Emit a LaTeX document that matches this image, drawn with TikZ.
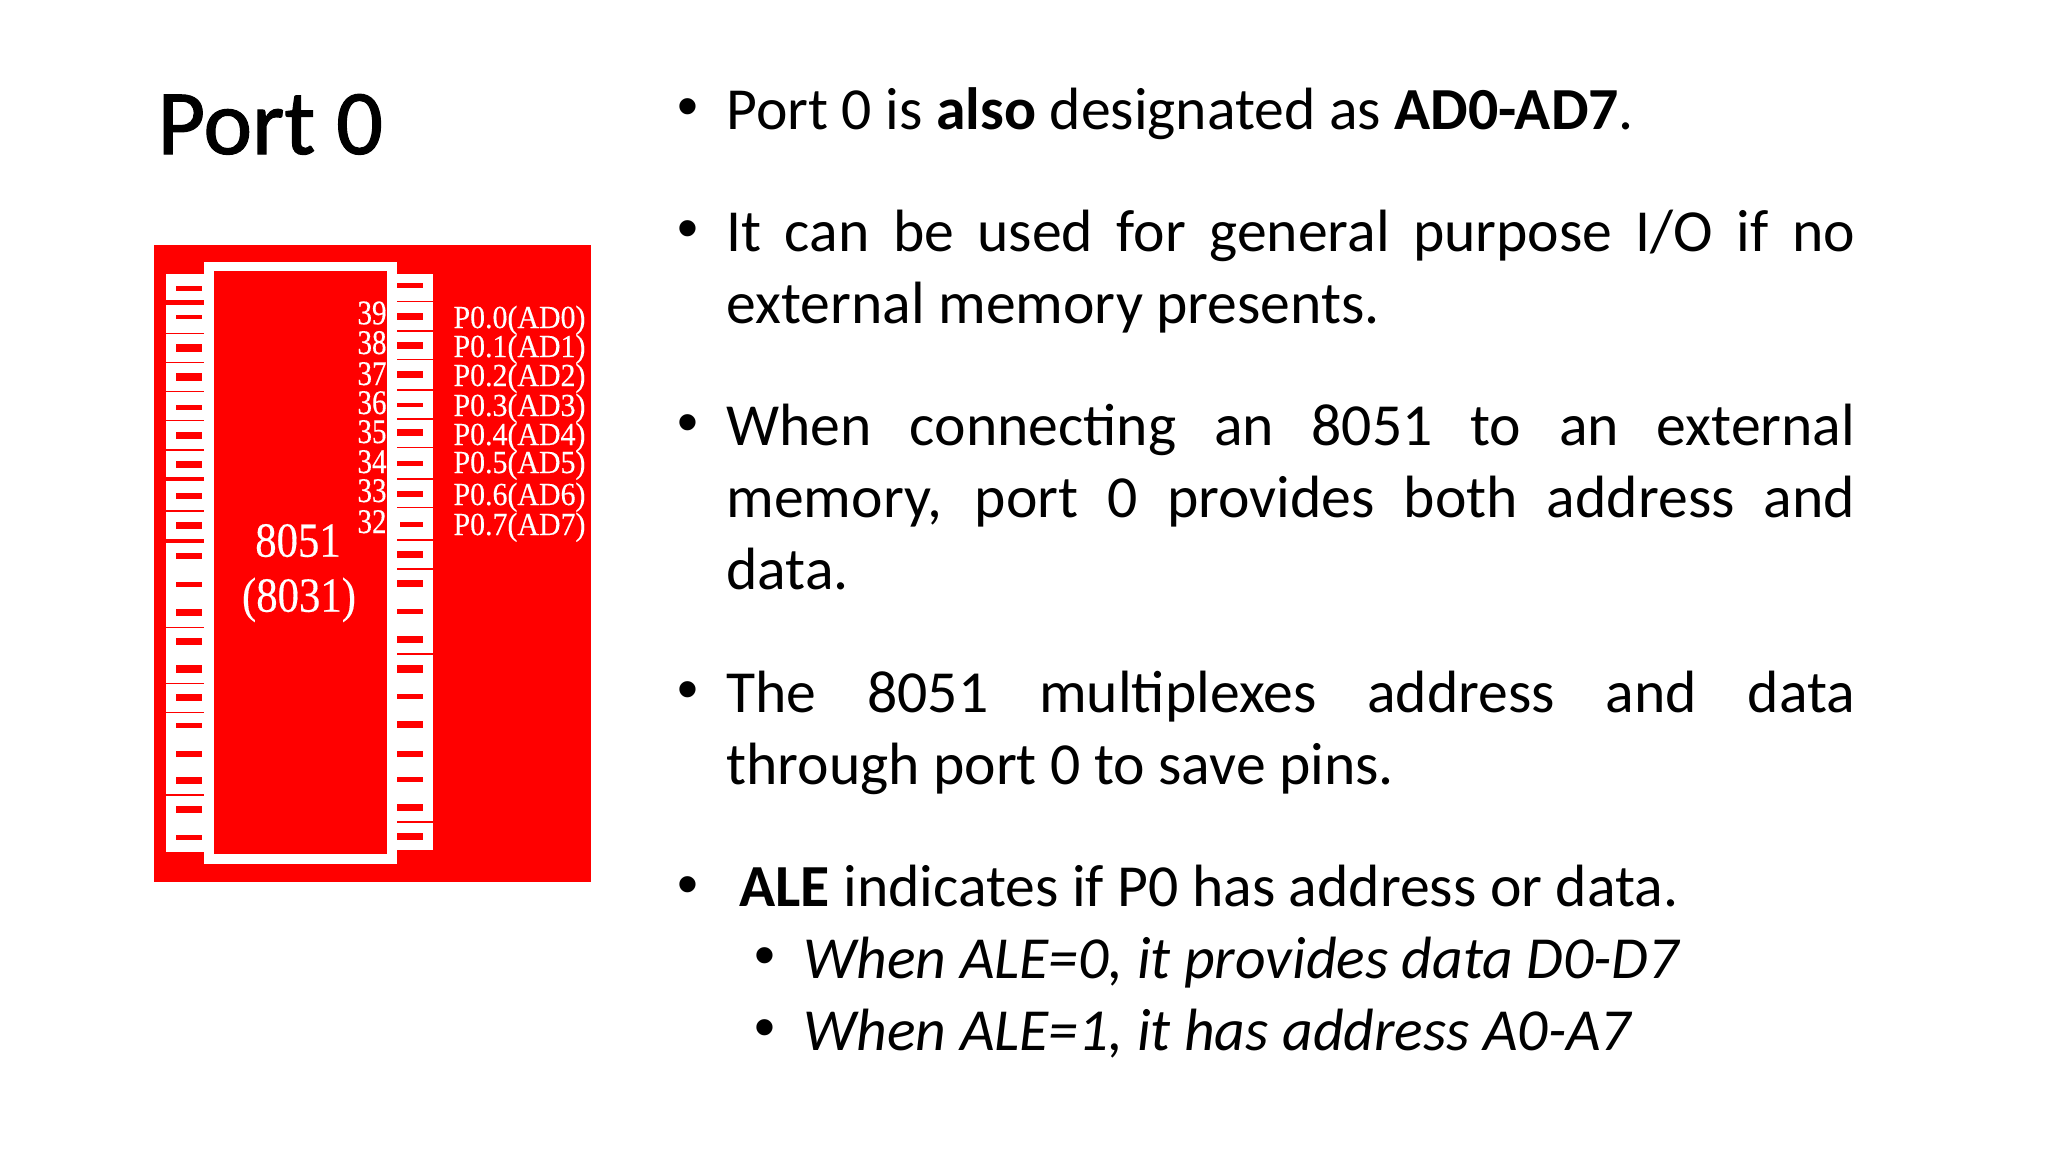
\documentclass[tikz,border=0pt]{standalone}
\usepackage{fontspec}
\setmainfont{Carlito}
\newfontfamily\chipfont[FakeBold=0.3]{Liberation Serif}
\newfontfamily\dotfont{Liberation Sans}
\newfontfamily\titlefont[FakeBold=1.2]{Carlito}
\usetikzlibrary{positioning}
\hyphenpenalty=10000
\tolerance=9000
\tikzset{
  bodytext/.style={anchor=base west,inner sep=0pt,text width=14.69cm,align=justify,font=\fontsize{22.1}{26.75}\selectfont},
  subtext/.style={anchor=base west,inner sep=0pt,font=\fontsize{22.1}{26.75}\selectfont\itshape},
  bulletdot/.style={anchor=base,inner sep=0pt,font=\dotfont\fontsize{22.1}{26.75}\selectfont},
  pinnum/.style={anchor=base east,inner sep=0pt,text=white,xscale=0.84,transform shape,font=\chipfont\fontsize{12.8}{12.8}\selectfont},
  pinlabel/.style={anchor=base west,inner sep=0pt,text=white,xscale=0.93,transform shape,font=\chipfont\fontsize{11.9}{11.9}\selectfont},
  chiplabel/.style={anchor=base,inner sep=0pt,text=white,xscale=0.87,transform shape,font=\chipfont\fontsize{18.2}{18.2}\selectfont}
}
\begin{document}
\begin{tikzpicture}[x=0.0130208cm,y=-0.0130208cm]
\useasboundingbox (0,0) rectangle (2048,1152);
\fill[white] (0,0) rectangle (2048,1152);
\node[anchor=base west,inner sep=0pt,font=\titlefont\fontsize{34.2}{34.2}\selectfont] (title) at (157,154) {Port 0};

% chip picture
\fill[red] (153.5,244.5) rectangle (591.3,881.5);
\fill[white] (165.7,273.7) rectangle (205,852);
\fill[white] (396,273.7) rectangle (433.3,850);
\fill[white] (204.3,261.7) rectangle (396.7,864.3);
\fill[red] (214.3,271.3) rectangle (387,854.3);

% left pins
\fill[red] (175.7,285.7) rectangle (202.3,290.7);
\fill[red] (175.7,314.7) rectangle (202.3,319.3);
\fill[red] (175.7,344) rectangle (202.3,351.7);
\fill[red] (175.7,373.3) rectangle (202.3,380.7);
\fill[red] (175.7,404.7) rectangle (202.3,410);
\fill[red] (175.7,431.7) rectangle (202.3,438.7);
\fill[red] (175.7,460.7) rectangle (202.3,468);
\fill[red] (175.7,492.7) rectangle (202.3,499.3);
\fill[red] (175.7,521.7) rectangle (202.3,529);
\fill[red] (175.7,552.7) rectangle (202.3,559.3);
\fill[red] (175.7,582.3) rectangle (202.3,587);
\fill[red] (175.7,609.3) rectangle (202.3,616);
\fill[red] (175.7,638.3) rectangle (202.3,645.3);
\fill[red] (175.7,665.3) rectangle (202.3,672.7);
\fill[red] (175.7,694.3) rectangle (202.3,701.3);
\fill[red] (175.7,723.3) rectangle (202.3,728.3);
\fill[red] (175.7,750.7) rectangle (202.3,757.3);
\fill[red] (175.7,777) rectangle (202.3,784);
\fill[red] (175.7,806.3) rectangle (202.3,813.3);
\fill[red] (175.7,835.3) rectangle (202.3,840);

% right pins
\fill[red] (397,283.3) rectangle (423.3,288.3);
\fill[red] (397,312.7) rectangle (423.3,320);
\fill[red] (397,341.7) rectangle (423.3,349);
\fill[red] (397,371) rectangle (423.3,378);
\fill[red] (397,402.7) rectangle (423.3,407.3);
\fill[red] (397,429.3) rectangle (423.3,436.3);
\fill[red] (397,460.7) rectangle (423.3,466);
\fill[red] (397,490.7) rectangle (423.3,497.3);
\fill[red] (400,521.7) rectangle (423.3,526.7);
\fill[red] (397,551) rectangle (423.3,558);
\fill[red] (397,580) rectangle (423.3,587.3);
\fill[red] (397,609.3) rectangle (423.3,613.7);
\fill[red] (397,636) rectangle (423.3,643);
\fill[red] (397,665.3) rectangle (423.3,672.7);
\fill[red] (397,694.3) rectangle (423.3,699);
\fill[red] (397,721.3) rectangle (423.3,728.3);
\fill[red] (397,750.7) rectangle (423.3,757.3);
\fill[red] (397,777) rectangle (423.3,782);
\fill[red] (397,804) rectangle (423.3,811);
\fill[red] (397,833) rectangle (423.3,840);

% gaps between pins
\fill[red] (165.7,300) rectangle (204.3,304.5);
\fill[red] (165.7,332.6) rectangle (204.3,334);
\fill[red] (165.7,361.6) rectangle (204.3,363);
\fill[red] (165.7,390.6) rectangle (204.3,392);
\fill[red] (165.7,419.6) rectangle (204.3,421);
\fill[red] (165.7,449.3) rectangle (204.3,450.7);
\fill[red] (165.7,477.3) rectangle (204.3,481.3);
\fill[red] (165.7,510.3) rectangle (204.3,511.7);
\fill[red] (165.7,539) rectangle (204.3,543);
\fill[red] (165.7,627) rectangle (204.3,628.4);
\fill[red] (165.7,682.6) rectangle (204.3,684);
\fill[red] (165.7,711.6) rectangle (204.3,713);
\fill[red] (165.7,794.3) rectangle (204.3,795.7);
\fill[red] (397,301) rectangle (433.3,302.4);
\fill[red] (397,330.3) rectangle (433.3,331.7);
\fill[red] (397,359) rectangle (433.3,360.4);
\fill[red] (397,388.7) rectangle (433.3,391.3);
\fill[red] (397,418.3) rectangle (433.3,419.7);
\fill[red] (397,446.6) rectangle (433.3,448);
\fill[red] (397,477.7) rectangle (433.3,480.3);
\fill[red] (397,507) rectangle (433.3,508.4);
\fill[red] (397,539) rectangle (433.3,541);
\fill[red] (397,568) rectangle (433.3,570);
\fill[red] (397,653.3) rectangle (433.3,655.3);
\fill[red] (397,821) rectangle (433.3,823);

% chip text
\node[chiplabel] (chipa) at (298,556.7) {8051};
\node[chiplabel] (chipb) at (299,611.7) {(8031)};
\node[pinnum] (num39) at (387,324.3) {39};
\node[pinnum] (num38) at (387,354) {38};
\node[pinnum] (num37) at (387,385) {37};
\node[pinnum] (num36) at (387,414) {36};
\node[pinnum] (num35) at (387,443) {35};
\node[pinnum] (num34) at (387,473) {34};
\node[pinnum] (num33) at (387,502) {33};
\node[pinnum] (num32) at (387,533) {32};
\node[pinlabel] (ad0) at (453,328) {P0.0(AD0)};
\node[pinlabel] (ad1) at (453,357) {P0.1(AD1)};
\node[pinlabel] (ad2) at (453,386) {P0.2(AD2)};
\node[pinlabel] (ad3) at (453,416) {P0.3(AD3)};
\node[pinlabel] (ad4) at (453,445) {P0.4(AD4)};
\node[pinlabel] (ad5) at (453,473) {P0.5(AD5)};
\node[pinlabel] (ad6) at (453,505) {P0.6(AD6)};
\node[pinlabel] (ad7) at (453,535) {P0.7(AD7)};

% bullet text
\node[bulletdot] (dota) at (688,126) {•};
\node[bulletdot] (dotb) at (688,248) {•};
\node[bulletdot] (dotc) at (688,442) {•};
\node[bulletdot] (dotd) at (688,709) {•};
\node[bulletdot] (dote) at (688,904) {•};
\node[bulletdot] (dotf) at (765,975) {•};
\node[bulletdot] (dotg) at (765,1047) {•};
\node[bodytext] (linea) at (726,129) {Port 0 is \textbf{also} designated as \textbf{AD0-AD7}.};
\node[bodytext] (lineb) at (726,251) {It can be used for general purpose I/O if no external memory presents.};
\node[bodytext] (linec) at (726,445) {When connecting an 8051 to an external memory, port 0 provides both address and data.};
\node[bodytext] (lined) at (726,712.5) {The 8051 multiplexes address and data\linebreak through port 0 to save pins.};
\node[subtext] (linee) at (739,906.7) {\upshape\textbf{ALE} indicates if P0 has address or data.};
\node[subtext] (linef) at (803,978.3) {When ALE=0, it provides data D0-D7};
\node[subtext] (lineg) at (803,1050) {When ALE=1, it has address A0-A7};
\end{tikzpicture}
\end{document}
